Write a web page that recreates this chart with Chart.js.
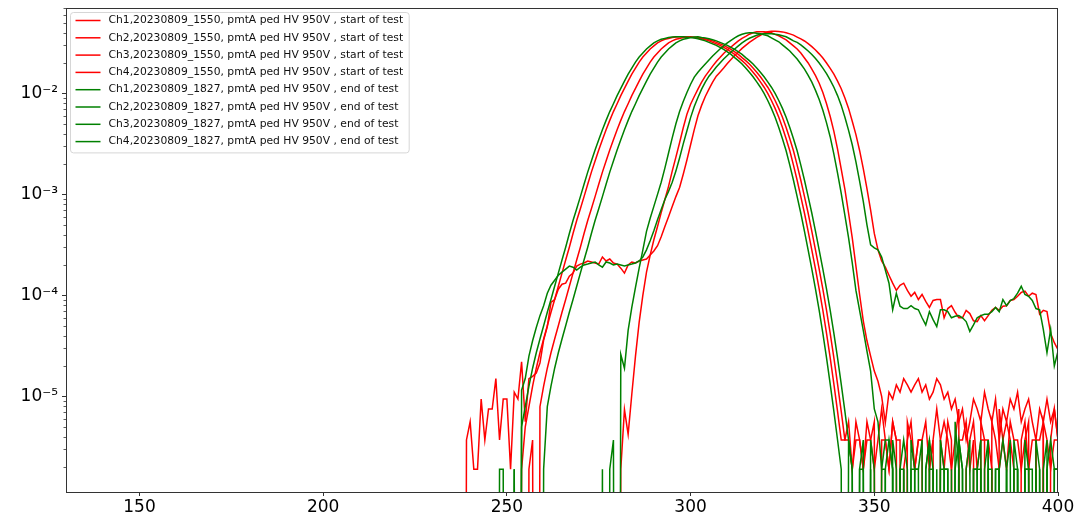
<!DOCTYPE html>
<html>
<head>
<meta charset="utf-8">
<script src="https://cdn.jsdelivr.net/npm/chart.js@4.4.0/dist/chart.umd.min.js"></script>
<style>
  html, body { margin: 0; padding: 0; background: #fff; }
</style>
</head>
<body>
<canvas id="pedChart" width="1087" height="513"></canvas>
<script>
// ADC bins of the pedestal histograms
var bins = [
  236, 237, 238, 239, 240, 241, 242, 243, 244, 245,
  246, 247, 248, 249, 250, 251, 252, 253, 254, 255,
  256, 257, 258, 259, 260, 261, 262, 263, 264, 265,
  266, 267, 268, 269, 270, 271, 272, 273, 274, 275,
  276, 277, 278, 279, 280, 281, 282, 283, 284, 285,
  286, 287, 288, 289, 290, 291, 292, 293, 294, 295,
  296, 297, 298, 299, 300, 301, 302, 303, 304, 305,
  306, 307, 308, 309, 310, 311, 312, 313, 314, 315,
  316, 317, 318, 319, 320, 321, 322, 323, 324, 325,
  326, 327, 328, 329, 330, 331, 332, 333, 334, 335,
  336, 337, 338, 339, 340, 341, 342, 343, 344, 345,
  346, 347, 348, 349, 350, 351, 352, 353, 354, 355,
  356, 357, 358, 359, 360, 361, 362, 363, 364, 365,
  366, 367, 368, 369, 370, 371, 372, 373, 374, 375,
  376, 377, 378, 379, 380, 381, 382, 383, 384, 385,
  386, 387, 388, 389, 390, 391, 392, 393, 394, 395,
  396, 397, 398, 399, 400
];

// normalised counts, start of test (15:50)
var ch1Start = [
  0, 0, 0, 0, 0, 0, 0, 0, 0, 0,
  0, 0, 0, 0, 0, 0, 0, 0, 1.9e-6, 5.0e-6,
  7.9e-6, 1.26e-5, 1.9e-5, 2.7e-5, 3.7e-5, 5.0e-5, 6.8e-5, 9.1e-5, 1.23e-4, 1.66e-4,
  2.24e-4, 3.0e-4, 4.1e-4, 5.5e-4, 7.2e-4, 9.5e-4, 1.26e-3, 1.66e-3, 2.14e-3, 2.75e-3,
  3.47e-3, 4.37e-3, 5.4e-3, 6.6e-3, 7.9e-3, 9.5e-3, 1.12e-2, 1.32e-2, 1.55e-2, 1.78e-2,
  2.04e-2, 2.29e-2, 2.51e-2, 2.75e-2, 2.95e-2, 3.16e-2, 3.31e-2, 3.43e-2, 3.5e-2, 3.57e-2,
  3.61e-2, 3.63e-2, 3.63e-2, 3.63e-2, 3.6e-2, 3.57e-2, 3.53e-2, 3.47e-2, 3.39e-2, 3.31e-2,
  3.2e-2, 3.09e-2, 2.99e-2, 2.85e-2, 2.72e-2, 2.57e-2, 2.43e-2, 2.26e-2, 2.11e-2, 1.95e-2,
  1.78e-2, 1.62e-2, 1.46e-2, 1.3e-2, 1.15e-2, 1.0e-2, 8.5e-3, 7.1e-3, 5.8e-3, 4.6e-3,
  3.55e-3, 2.7e-3, 1.95e-3, 1.38e-3, 9.5e-4, 6.5e-4, 4.3e-4, 2.8e-4, 1.82e-4, 1.15e-4,
  7.1e-5, 4.2e-5, 2.4e-5, 1.32e-5, 7.1e-6, 3.7e-6, 3.7e-6, 5.6e-6, 1.9e-6, 3.7e-6,
  3.7e-6, 1.9e-6, 5.6e-6, 3.7e-6, 1.9e-6, 3.7e-6, 7.5e-6, 3.7e-6, 1.9e-6, 5.6e-6,
  3.7e-6, 3.7e-6, 0, 5.6e-6, 3.7e-6, 1.9e-6, 3.7e-6, 3.7e-6, 0, 1.9e-6,
  3.7e-6, 7.5e-6, 3.7e-6, 1.9e-6, 5.6e-6, 3.7e-6, 0, 3.7e-6, 3.7e-6, 5.6e-6,
  1.9e-6, 3.7e-6, 0, 5.6e-6, 3.7e-6, 3.7e-6, 1.9e-6, 0, 7.5e-6, 3.7e-6,
  1.9e-6, 5.6e-6, 3.7e-6, 3.7e-6, 1.9e-6, 3.7e-6, 5.6e-6, 0, 3.7e-6, 3.7e-6,
  5.6e-6, 0, 3.7e-6, 7.5e-6, 3.7e-6
];
var ch2Start = [
  0, 0, 0, 0, 0, 0, 0, 0, 0, 0,
  0, 0, 0, 0, 0, 0, 0, 0, 0, 0,
  1.9e-6, 3.7e-6, 0, 7.9e-6, 1.26e-5, 1.9e-5, 2.7e-5, 3.7e-5, 5.0e-5, 6.8e-5,
  9.1e-5, 1.23e-4, 1.66e-4, 2.24e-4, 3.0e-4, 4.1e-4, 5.5e-4, 7.2e-4, 9.5e-4, 1.26e-3,
  1.66e-3, 2.14e-3, 2.75e-3, 3.47e-3, 4.37e-3, 5.4e-3, 6.6e-3, 7.9e-3, 9.5e-3, 1.12e-2,
  1.32e-2, 1.55e-2, 1.78e-2, 2.04e-2, 2.29e-2, 2.51e-2, 2.75e-2, 2.95e-2, 3.16e-2, 3.31e-2,
  3.43e-2, 3.5e-2, 3.57e-2, 3.61e-2, 3.63e-2, 3.6e-2, 3.57e-2, 3.53e-2, 3.47e-2, 3.39e-2,
  3.31e-2, 3.2e-2, 3.09e-2, 2.99e-2, 2.85e-2, 2.72e-2, 2.57e-2, 2.43e-2, 2.26e-2, 2.11e-2,
  1.95e-2, 1.78e-2, 1.62e-2, 1.46e-2, 1.3e-2, 1.15e-2, 1.0e-2, 8.5e-3, 7.1e-3, 5.8e-3,
  4.6e-3, 3.55e-3, 2.7e-3, 1.95e-3, 1.38e-3, 9.5e-4, 6.5e-4, 4.3e-4, 2.8e-4, 1.82e-4,
  1.15e-4, 7.1e-5, 4.2e-5, 2.4e-5, 1.32e-5, 7.1e-6, 3.7e-6, 3.7e-6, 1.9e-6, 5.6e-6,
  3.7e-6, 1.9e-6, 3.7e-6, 3.7e-6, 5.6e-6, 0, 3.7e-6, 3.7e-6, 1.9e-6, 5.6e-6,
  3.7e-6, 0, 1.9e-6, 3.7e-6, 5.6e-6, 1.9e-6, 3.7e-6, 3.7e-6, 5.6e-6, 1.9e-6,
  3.7e-6, 0, 3.7e-6, 5.6e-6, 3.7e-6, 1.9e-6, 3.7e-6, 7.5e-6, 0, 1.9e-6,
  3.7e-6, 5.6e-6, 1.9e-6, 3.7e-6, 3.7e-6, 0, 5.6e-6, 3.7e-6, 1.9e-6, 3.7e-6,
  5.6e-6, 3.7e-6, 1.9e-6, 0, 3.7e-6, 5.6e-6, 1.9e-6, 3.7e-6, 3.7e-6, 0,
  5.6e-6, 3.7e-6, 1.9e-6, 3.7e-6, 3.7e-6
];
var ch3Start = [
  0, 0, 0, 0, 0, 0, 0, 0, 0, 0,
  0, 0, 0, 0, 0, 0, 0, 0, 0, 0,
  0, 0, 0, 0, 0, 0, 0, 0, 0, 0,
  0, 0, 0, 0, 0, 0, 0, 0, 0, 0,
  0, 0, 0, 0, 0, 1.9e-6, 7.4e-6, 4.2e-6, 1.05e-5, 2.5e-5,
  5.4e-5, 1.0e-4, 1.7e-4, 2.5e-4, 3.55e-4, 4.8e-4, 6.6e-4, 8.9e-4, 1.2e-3, 1.7e-3,
  2.34e-3, 3.24e-3, 4.57e-3, 6.2e-3, 7.8e-3, 9.3e-3, 1.1e-2, 1.29e-2, 1.48e-2, 1.66e-2,
  1.86e-2, 2.07e-2, 2.26e-2, 2.48e-2, 2.69e-2, 2.88e-2, 3.09e-2, 3.31e-2, 3.51e-2, 3.67e-2,
  3.85e-2, 3.98e-2, 4.07e-2, 4.07e-2, 4.07e-2, 4.02e-2, 3.98e-2, 3.84e-2, 3.72e-2, 3.55e-2,
  3.39e-2, 3.16e-2, 2.95e-2, 2.75e-2, 2.51e-2, 2.24e-2, 2.0e-2, 1.74e-2, 1.5e-2, 1.26e-2,
  1.02e-2, 7.9e-3, 5.9e-3, 4.2e-3, 2.8e-3, 1.78e-3, 1.12e-3, 6.5e-4, 3.7e-4, 1.95e-4,
  1.02e-4, 5.6e-5, 3.55e-5, 2.5e-5, 1.78e-5, 1.41e-5, 1.0e-5, 5.5e-6, 1.1e-5, 9.4e-6,
  1.3e-5, 1.1e-5, 1.5e-5, 1.3e-5, 1.1e-5, 1.3e-5, 1.5e-5, 1.1e-5, 1.3e-5, 9.4e-6,
  1.1e-5, 1.5e-5, 1.3e-5, 9.4e-6, 1.1e-5, 7.5e-6, 9.4e-6, 5.6e-6, 7.5e-6, 3.7e-6,
  5.6e-6, 9.4e-6, 7.5e-6, 5.6e-6, 1.1e-5, 7.5e-6, 5.6e-6, 9.4e-6, 3.7e-6, 7.5e-6,
  5.6e-6, 9.4e-6, 7.5e-6, 1.1e-5, 5.6e-6, 7.5e-6, 9.4e-6, 5.6e-6, 3.7e-6, 7.5e-6,
  5.6e-6, 9.4e-6, 5.6e-6, 7.5e-6, 3.7e-6
];
var ch4Start = [
  0, 0, 0, 3.7e-6, 5.6e-6, 1.9e-6, 1.9e-6, 9.4e-6, 3.7e-6, 7.5e-6,
  7.5e-6, 1.5e-5, 3.7e-6, 9.4e-6, 9.4e-6, 1.9e-6, 1.1e-5, 9.4e-6, 2.2e-5, 5.6e-6,
  1.5e-5, 1.58e-5, 1.7e-5, 2.14e-5, 3.6e-5, 4.9e-5, 8.5e-5, 9.1e-5, 1.15e-4, 1.29e-4,
  1.32e-4, 1.55e-4, 1.66e-4, 1.95e-4, 2.04e-4, 2.09e-4, 2.19e-4, 2.14e-4, 2.09e-4, 2.04e-4,
  2.4e-4, 2.19e-4, 2.29e-4, 2.09e-4, 2.04e-4, 1.86e-4, 1.66e-4, 2.0e-4, 2.14e-4, 2.09e-4,
  2.19e-4, 2.24e-4, 2.29e-4, 2.51e-4, 2.75e-4, 3.1e-4, 3.8e-4, 4.8e-4, 6.0e-4, 7.6e-4,
  9.5e-4, 1.17e-3, 1.58e-3, 2.19e-3, 3.1e-3, 4.37e-3, 6.0e-3, 7.6e-3, 9.3e-3, 1.1e-2,
  1.29e-2, 1.48e-2, 1.62e-2, 1.78e-2, 1.97e-2, 2.16e-2, 2.37e-2, 2.57e-2, 2.79e-2, 2.99e-2,
  3.2e-2, 3.39e-2, 3.59e-2, 3.76e-2, 3.94e-2, 4.07e-2, 4.12e-2, 4.12e-2, 4.09e-2, 4.06e-2,
  3.98e-2, 3.88e-2, 3.77e-2, 3.61e-2, 3.46e-2, 3.3e-2, 3.11e-2, 2.9e-2, 2.69e-2, 2.46e-2,
  2.24e-2, 2.0e-2, 1.77e-2, 1.55e-2, 1.32e-2, 1.11e-2, 9.0e-3, 7.1e-3, 5.3e-3, 3.9e-3,
  2.72e-3, 1.8e-3, 1.14e-3, 7.0e-4, 4.1e-4, 2.82e-4, 2.19e-4, 1.9e-4, 1.58e-4, 1.32e-4,
  1.12e-4, 1.26e-4, 1.32e-4, 1.12e-4, 9.8e-5, 1.07e-4, 9.1e-5, 1.02e-4, 8.7e-5, 7.6e-5,
  8.9e-5, 9.1e-5, 9.1e-5, 6.0e-5, 7.4e-5, 7.9e-5, 6.8e-5, 6.0e-5, 6.0e-5, 7.1e-5,
  6.6e-5, 5.6e-5, 5.5e-5, 6.3e-5, 5.6e-5, 6.3e-5, 7.1e-5, 7.6e-5, 7.1e-5, 7.8e-5,
  7.9e-5, 8.9e-5, 9.1e-5, 9.8e-5, 1.07e-4, 1.1e-4, 9.8e-5, 1.05e-4, 1.02e-4, 6.5e-5,
  7.1e-5, 6.9e-5, 4.2e-5, 3.4e-5, 2.9e-5
];

// normalised counts, end of test (18:27)
var ch1End = [
  0, 0, 0, 0, 0, 0, 0, 0, 0, 0,
  0, 0, 0, 0, 0, 0, 1.9e-6, 0, 5.0e-6, 7.9e-6,
  1.26e-5, 1.9e-5, 2.7e-5, 3.7e-5, 5.0e-5, 6.8e-5, 9.1e-5, 1.23e-4, 1.66e-4, 2.24e-4,
  3.0e-4, 4.1e-4, 5.5e-4, 7.2e-4, 9.5e-4, 1.26e-3, 1.66e-3, 2.14e-3, 2.75e-3, 3.47e-3,
  4.37e-3, 5.4e-3, 6.6e-3, 7.9e-3, 9.5e-3, 1.12e-2, 1.32e-2, 1.55e-2, 1.78e-2, 2.04e-2,
  2.29e-2, 2.51e-2, 2.75e-2, 2.95e-2, 3.16e-2, 3.31e-2, 3.43e-2, 3.5e-2, 3.57e-2, 3.61e-2,
  3.63e-2, 3.63e-2, 3.63e-2, 3.6e-2, 3.57e-2, 3.53e-2, 3.47e-2, 3.39e-2, 3.31e-2, 3.2e-2,
  3.09e-2, 2.99e-2, 2.85e-2, 2.72e-2, 2.57e-2, 2.43e-2, 2.26e-2, 2.11e-2, 1.95e-2, 1.78e-2,
  1.62e-2, 1.46e-2, 1.3e-2, 1.15e-2, 1.0e-2, 8.5e-3, 7.1e-3, 5.8e-3, 4.6e-3, 3.55e-3,
  2.7e-3, 1.95e-3, 1.38e-3, 9.5e-4, 6.5e-4, 4.3e-4, 2.8e-4, 1.82e-4, 1.15e-4, 7.1e-5,
  4.2e-5, 2.4e-5, 1.32e-5, 7.1e-6, 3.7e-6, 1.9e-6, 0, 3.7e-6, 1.9e-6, 0,
  1.9e-6, 1.9e-6, 0, 3.7e-6, 1.9e-6, 0, 0, 1.9e-6, 3.7e-6, 1.9e-6,
  0, 1.9e-6, 1.9e-6, 0, 3.7e-6, 1.9e-6, 1.9e-6, 0, 1.9e-6, 3.7e-6,
  0, 1.9e-6, 0, 1.9e-6, 1.9e-6, 0, 5.6e-6, 1.9e-6, 0, 1.9e-6,
  3.7e-6, 0, 1.9e-6, 1.9e-6, 0, 3.7e-6, 0, 1.9e-6, 1.9e-6, 0,
  1.9e-6, 3.7e-6, 0, 1.9e-6, 0, 1.9e-6, 1.9e-6, 0, 3.7e-6, 1.9e-6,
  0, 1.9e-6, 0, 1.9e-6, 1.9e-6
];
var ch2End = [
  0, 0, 0, 0, 0, 0, 0, 0, 0, 0,
  0, 0, 0, 0, 0, 0, 0, 0, 0, 0,
  0, 0, 0, 0, 1.9e-6, 7.9e-6, 1.26e-5, 1.9e-5, 2.7e-5, 3.7e-5,
  5.0e-5, 6.8e-5, 9.1e-5, 1.23e-4, 1.66e-4, 2.24e-4, 3.0e-4, 4.1e-4, 5.5e-4, 7.2e-4,
  9.5e-4, 1.26e-3, 1.66e-3, 2.14e-3, 2.75e-3, 3.47e-3, 4.37e-3, 5.4e-3, 6.6e-3, 7.9e-3,
  9.5e-3, 1.12e-2, 1.32e-2, 1.55e-2, 1.78e-2, 2.04e-2, 2.29e-2, 2.51e-2, 2.75e-2, 2.95e-2,
  3.16e-2, 3.31e-2, 3.43e-2, 3.5e-2, 3.57e-2, 3.61e-2, 3.63e-2, 3.57e-2, 3.53e-2, 3.47e-2,
  3.39e-2, 3.31e-2, 3.2e-2, 3.09e-2, 2.99e-2, 2.85e-2, 2.72e-2, 2.57e-2, 2.43e-2, 2.26e-2,
  2.11e-2, 1.95e-2, 1.78e-2, 1.62e-2, 1.46e-2, 1.3e-2, 1.15e-2, 1.0e-2, 8.5e-3, 7.1e-3,
  5.8e-3, 4.6e-3, 3.55e-3, 2.7e-3, 1.95e-3, 1.38e-3, 9.5e-4, 6.5e-4, 4.3e-4, 2.8e-4,
  1.82e-4, 1.15e-4, 7.1e-5, 4.2e-5, 2.4e-5, 1.32e-5, 7.1e-6, 3.7e-6, 1.9e-6, 0,
  1.9e-6, 3.7e-6, 0, 1.9e-6, 0, 0, 1.9e-6, 1.9e-6, 0, 3.7e-6,
  1.9e-6, 0, 1.9e-6, 0, 1.9e-6, 1.9e-6, 0, 0, 1.9e-6, 3.7e-6,
  1.9e-6, 0, 1.9e-6, 1.9e-6, 0, 1.9e-6, 0, 3.7e-6, 1.9e-6, 0,
  0, 1.9e-6, 1.9e-6, 0, 1.9e-6, 3.7e-6, 0, 1.9e-6, 1.9e-6, 0,
  1.9e-6, 0, 3.7e-6, 1.9e-6, 0, 1.9e-6, 1.9e-6, 0, 1.9e-6, 0,
  1.9e-6, 3.7e-6, 0, 1.9e-6, 1.9e-6
];
var ch3End = [
  0, 0, 0, 0, 0, 0, 0, 0, 0, 0,
  0, 0, 0, 0, 0, 0, 0, 0, 0, 0,
  0, 0, 0, 0, 0, 0, 0, 0, 0, 0,
  0, 0, 0, 0, 0, 0, 0, 0, 0, 0,
  1.9e-6, 0, 1.9e-6, 3.7e-6, 0, 2.6e-5, 1.9e-5, 4.5e-5, 7.6e-5, 1.2e-4,
  1.86e-4, 2.8e-4, 4.3e-4, 5.8e-4, 7.6e-4, 1.0e-3, 1.32e-3, 1.82e-3, 2.57e-3, 3.63e-3,
  5.0e-3, 6.6e-3, 8.3e-3, 1.02e-2, 1.23e-2, 1.45e-2, 1.62e-2, 1.78e-2, 1.95e-2, 2.14e-2,
  2.34e-2, 2.54e-2, 2.75e-2, 2.95e-2, 3.16e-2, 3.35e-2, 3.55e-2, 3.72e-2, 3.85e-2, 3.94e-2,
  3.98e-2, 3.98e-2, 3.94e-2, 3.89e-2, 3.8e-2, 3.72e-2, 3.55e-2, 3.39e-2, 3.24e-2, 3.02e-2,
  2.82e-2, 2.63e-2, 2.4e-2, 2.19e-2, 1.95e-2, 1.74e-2, 1.51e-2, 1.29e-2, 1.07e-2, 8.7e-3,
  6.8e-3, 5.1e-3, 3.7e-3, 2.5e-3, 1.62e-3, 1.02e-3, 6.2e-4, 3.7e-4, 2.1e-4, 1.12e-4,
  7.1e-5, 4.5e-5, 2.8e-5, 1.78e-5, 7.5e-6, 5.6e-6, 1.9e-6, 3.7e-6, 3.7e-6, 1.9e-6,
  0, 1.9e-6, 3.7e-6, 1.9e-6, 0, 1.9e-6, 1.9e-6, 3.7e-6, 0, 1.9e-6,
  1.9e-6, 0, 3.7e-6, 1.9e-6, 1.9e-6, 0, 1.9e-6, 3.7e-6, 1.9e-6, 0,
  0, 1.9e-6, 1.9e-6, 3.7e-6, 0, 1.9e-6, 1.9e-6, 0, 1.9e-6, 3.7e-6,
  1.9e-6, 0, 1.9e-6, 1.9e-6, 0, 3.7e-6, 1.9e-6, 1.9e-6, 0, 1.9e-6,
  0, 1.9e-6, 3.7e-6, 1.9e-6, 1.9e-6
];
var ch4End = [
  0, 0, 0, 0, 0, 0, 0, 0, 0, 0,
  0, 0, 1.9e-6, 1.9e-6, 0, 0, 1.9e-6, 0, 1.15e-5, 1.5e-5,
  2.5e-5, 3.55e-5, 4.8e-5, 6.3e-5, 7.9e-5, 1.05e-4, 1.26e-4, 1.41e-4, 1.58e-4, 1.7e-4,
  1.82e-4, 1.95e-4, 1.9e-4, 1.78e-4, 1.9e-4, 2.0e-4, 2.04e-4, 2.09e-4, 2.14e-4, 2.0e-4,
  1.9e-4, 2.14e-4, 2.09e-4, 2.0e-4, 2.04e-4, 2.0e-4, 1.95e-4, 2.0e-4, 2.04e-4, 2.09e-4,
  2.19e-4, 2.4e-4, 2.82e-4, 3.47e-4, 4.37e-4, 5.6e-4, 7.1e-4, 8.9e-4, 1.07e-3, 1.32e-3,
  1.7e-3, 2.29e-3, 3.16e-3, 4.27e-3, 5.75e-3, 7.4e-3, 9.1e-3, 1.1e-2, 1.29e-2, 1.48e-2,
  1.64e-2, 1.82e-2, 2.0e-2, 2.19e-2, 2.37e-2, 2.57e-2, 2.75e-2, 2.95e-2, 3.16e-2, 3.35e-2,
  3.51e-2, 3.63e-2, 3.76e-2, 3.85e-2, 3.89e-2, 3.89e-2, 3.89e-2, 3.85e-2, 3.8e-2, 3.72e-2,
  3.63e-2, 3.47e-2, 3.31e-2, 3.2e-2, 3.02e-2, 2.82e-2, 2.63e-2, 2.43e-2, 2.21e-2, 2.0e-2,
  1.78e-2, 1.57e-2, 1.35e-2, 1.15e-2, 9.5e-3, 7.6e-3, 5.8e-3, 4.3e-3, 3.1e-3, 2.1e-3,
  1.35e-3, 8.5e-4, 5.0e-4, 3.16e-4, 2.95e-4, 2.82e-4, 2.4e-4, 1.78e-4, 1.32e-4, 7.2e-5,
  1.05e-4, 7.8e-5, 7.4e-5, 7.4e-5, 7.9e-5, 7.4e-5, 7.2e-5, 6.0e-5, 5.1e-5, 6.9e-5,
  5.75e-5, 4.9e-5, 7.2e-5, 7.2e-5, 6.9e-5, 6.0e-5, 6.2e-5, 6.3e-5, 6.0e-5, 5.5e-5,
  4.4e-5, 5.1e-5, 6.0e-5, 6.3e-5, 6.5e-5, 6.5e-5, 6.9e-5, 7.6e-5, 6.9e-5, 9.1e-5,
  7.9e-5, 8.9e-5, 9.3e-5, 1.05e-4, 1.23e-4, 1.02e-4, 9.8e-5, 8.9e-5, 7.4e-5, 7.2e-5,
  4.6e-5, 2.7e-5, 4.6e-5, 2.0e-5, 2.8e-5
];

var seriesLabels = [
  'Ch1,20230809_1550, pmtA ped HV 950V , start of test',
  'Ch2,20230809_1550, pmtA ped HV 950V , start of test',
  'Ch3,20230809_1550, pmtA ped HV 950V , start of test',
  'Ch4,20230809_1550, pmtA ped HV 950V , start of test',
  'Ch1,20230809_1827, pmtA ped HV 950V , end of test',
  'Ch2,20230809_1827, pmtA ped HV 950V , end of test',
  'Ch3,20230809_1827, pmtA ped HV 950V , end of test',
  'Ch4,20230809_1827, pmtA ped HV 950V , end of test'
];
var seriesValues = [ch1Start, ch2Start, ch3Start, ch4Start, ch1End, ch2End, ch3End, ch4End];

var xTicks = [150, 200, 250, 300, 350, 400];
var yTicks = [1e-5, 1e-4, 1e-3, 1e-2];
var yTickLabels = ['10\u207B\u2075', '10\u207B\u2074', '10\u207B\u00B3', '10\u207B\u00B2'];

var startColor = '#ff0000';
var endColor = '#008000';
// empty bins sit far below the visible range, like log(0)
var emptyBin = 1e-20;

function toPoints(vals) {
  return bins.map(function (b, i) {
    return { x: b, y: vals[i] > 0 ? vals[i] : emptyBin };
  });
}

var datasets = seriesValues.map(function (vals, i) {
  var isStart = i < 4;
  return {
    label: seriesLabels[i],
    data: toPoints(vals),
    borderColor: isStart ? startColor : endColor,
    backgroundColor: isStart ? startColor : endColor,
    borderWidth: 1.5,
    pointRadius: 0,
    tension: 0,
    fill: false,
    order: isStart ? 1 : 0
  };
});

var tickFont = { family: 'DejaVu Sans', size: 17 };

// axes box and log minor ticks
var axesFrame = {
  id: 'axesFrame',
  afterDatasetsDraw: function (chart) {
    var ctx = chart.ctx, a = chart.chartArea, y = chart.scales.y;
    ctx.save();
    ctx.strokeStyle = '#333';
    ctx.lineWidth = 1;
    ctx.strokeRect(Math.round(a.left) + 0.5, Math.round(a.top) + 0.5,
      Math.round(a.right - a.left) - 1, Math.round(a.bottom - a.top));
    ctx.beginPath();
    for (var e = -6; e <= -2; e++) {
      for (var m = 2; m <= 9; m++) {
        var v = m * Math.pow(10, e);
        if (v < y.min || v > y.max) continue;
        var py = Math.round(y.getPixelForValue(v)) + 0.5;
        ctx.moveTo(a.left - 2.5, py);
        ctx.lineTo(a.left, py);
      }
    }
    ctx.lineWidth = 0.8;
    ctx.stroke();
    ctx.restore();
  }
};

// framed legend in the upper left of the plot
var legendBox = {
  id: 'legendBox',
  afterDatasetsDraw: function (chart) {
    var ctx = chart.ctx, a = chart.chartArea;
    var sets = chart.data.datasets;
    ctx.save();
    ctx.font = '10.75px "DejaVu Sans"';
    var textW = 0;
    sets.forEach(function (d) { textW = Math.max(textW, ctx.measureText(d.label).width); });
    var x0 = a.left + 4.5, y0 = a.top + 4.5, rowH = 17.3;
    var w = 38 + textW + 6, h = sets.length * rowH + 2;
    ctx.beginPath();
    if (ctx.roundRect) ctx.roundRect(x0, y0, w, h, 3); else ctx.rect(x0, y0, w, h);
    ctx.fillStyle = 'rgba(255,255,255,0.8)';
    ctx.fill();
    ctx.strokeStyle = '#d6d6d6';
    ctx.lineWidth = 1;
    ctx.stroke();
    ctx.textBaseline = 'middle';
    sets.forEach(function (d, i) {
      var cy = y0 + 8 + i * rowH;
      ctx.beginPath();
      ctx.moveTo(x0 + 5, cy);
      ctx.lineTo(x0 + 30, cy);
      ctx.strokeStyle = d.borderColor;
      ctx.lineWidth = d.borderWidth;
      ctx.stroke();
      ctx.fillStyle = '#111';
      ctx.fillText(d.label, x0 + 38, cy);
    });
    ctx.restore();
  }
};

new Chart(document.getElementById('pedChart').getContext('2d'), {
  type: 'line',
  data: { datasets: datasets },
  plugins: [axesFrame, legendBox],
  options: {
    responsive: false,
    animation: false,
    events: [],
    layout: { padding: { left: 0, right: 29, top: 8, bottom: 0 } },
    plugins: { legend: { display: false }, tooltip: { enabled: false } },
    scales: {
      x: {
        type: 'linear',
        min: 130,
        max: 400,
        afterBuildTicks: function (s) { s.ticks = xTicks.map(function (v) { return { value: v }; }); },
        afterFit: function (s) { s.height = 21; s.paddingLeft = 0; s.paddingRight = 0; },
        border: { display: false },
        grid: { drawOnChartArea: false, drawTicks: true, tickLength: 4, color: '#333' },
        ticks: { color: '#000', font: tickFont, padding: 1, maxRotation: 0, autoSkip: false }
      },
      y: {
        type: 'logarithmic',
        min: 1.13e-6,
        max: 7.0e-2,
        afterBuildTicks: function (s) { s.ticks = yTicks.map(function (v) { return { value: v }; }); },
        afterFit: function (s) { s.width = 66; s.paddingTop = 0; s.paddingBottom = 0; },
        border: { display: false },
        grid: { drawOnChartArea: false, drawTicks: true, tickLength: 4, color: '#333' },
        ticks: {
          color: '#000',
          font: tickFont,
          padding: 4,
          autoSkip: false,
          callback: function (v) {
            var i = yTicks.indexOf(v);
            return i >= 0 ? yTickLabels[i] : '';
          }
        }
      }
    }
  }
});
</script>
</body>
</html>
